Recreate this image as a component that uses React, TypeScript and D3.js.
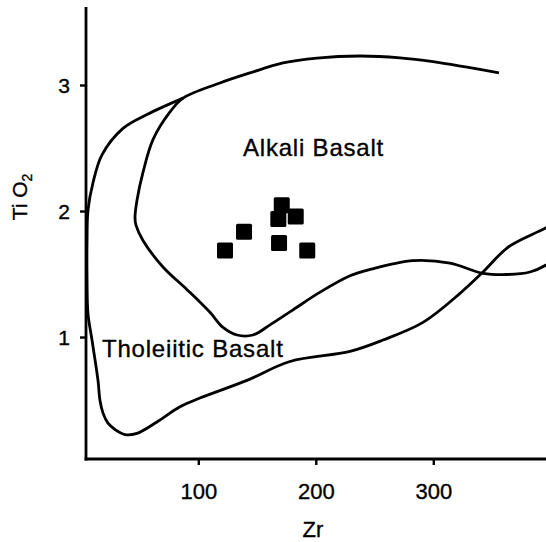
import * as d3 from "d3";

type Pt = [number, number]; // [Zr, TiO2]

// shared upper boundary, right to left
const topBoundary: Pt[] = [
  [355.5, 3.1], [328.3, 3.145], [299.3, 3.19], [271.2, 3.22], [237.2, 3.234],
  [200.6, 3.218], [171.7, 3.179], [143.6, 3.1], [118.0, 3.02], [86.6, 2.9],
];

// alkali basalt field: inner branch down to the kink and out to the right
const alkaliBranch: Pt[] = [
  [75.5, 2.79], [61.0, 2.57], [52.5, 2.31], [47.4, 2.09], [45.7, 1.95],
  [46.6, 1.89], [52.5, 1.77], [69.5, 1.56], [90.0, 1.38], [109.5, 1.2],
  [120.6, 1.08], [132.5, 1.02], [146.1, 1.02], [160.6, 1.1], [180.2, 1.22],
  [203.2, 1.36], [228.7, 1.49], [245.7, 1.54], [282.3, 1.61], [313.8, 1.59],
  [341.9, 1.51], [362.3, 1.5], [381.9, 1.52], [395.5, 1.575], [410, 1.68],
];

// tholeiitic basalt field: outer branch along the axis and across the bottom
const tholeiiticBranch: Pt[] = [
  [86.6, 2.9], [55.9, 2.77], [35.5, 2.66], [17.6, 2.45], [10.0, 2.23],
  [5.7, 2.01], [4.9, 1.77], [4.9, 1.46], [5.7, 1.19], [9.1, 0.98],
  [14.2, 0.66], [15.9, 0.5], [18.5, 0.4], [22.7, 0.32], [28.7, 0.27],
  [37.2, 0.23], [47.4, 0.24], [64.4, 0.33], [84.0, 0.45], [101.0, 0.52],
  [141.0, 0.66], [177.6, 0.81], [228.7, 0.89], [256.8, 0.98], [290.8, 1.12],
  [322.3, 1.35], [341.9, 1.52], [362.3, 1.71], [381.9, 1.81], [395.5, 1.87],
  [410, 1.93],
];

// samples
const sampleZr = [122.3, 138.5, 170.6, 167.7, 182.5, 168.3, 192.3];
const sampleTi = [1.69, 1.84, 2.05, 1.94, 1.96, 1.75, 1.69];

const xTicks = [100, 200, 300];
const yTicks = [1, 2, 3];

const W = 546;
const H = 542;
const font = "'Liberation Sans', Arial, Helvetica, sans-serif";

export default function App() {
  const x = d3.scaleLinear().domain([4, 395.5]).range([86, 546]);
  const y = d3.scaleLinear().domain([0.036, 3.623]).range([459, 7]);

  const line = d3
    .line<Pt>()
    .x((d) => x(d[0]))
    .y((d) => y(d[1]))
    .curve(d3.curveCatmullRom.alpha(0.5));

  const alkaliPath = line([...topBoundary, ...alkaliBranch]) ?? "";
  const tholPath = line(tholeiiticBranch) ?? "";

  const sq = 16;
  const x0 = x(4);
  const y0 = y(0.036);
  // scanned look: a hairline stroke thickens the glyphs a little
  const textInk = { fill: "#000", stroke: "#000", strokeWidth: 0.35 };

  return (
    <svg
      width={W}
      height={H}
      viewBox={`0 0 ${W} ${H}`}
      style={{ position: "absolute", left: 0, top: 0, background: "#fff" }}
      fontFamily={font}
    >
      <rect width={W} height={H} fill="#fff" />

      {/* field boundaries */}
      <path d={alkaliPath} fill="none" stroke="#000" strokeWidth={2.8} />
      <path d={tholPath} fill="none" stroke="#000" strokeWidth={2.8} />

      {/* axes */}
      <line x1={x0} x2={x0} y1={y(3.623)} y2={y0 + 1.4} stroke="#000" strokeWidth={2.8} />
      <line x1={x0 - 1.4} x2={W} y1={y0} y2={y0} stroke="#000" strokeWidth={2.8} />

      {yTicks.map((t) => (
        <g key={"y" + t}>
          <line x1={x0 - 6} x2={x0} y1={y(t)} y2={y(t)} stroke="#000" strokeWidth={2.4} />
          <text x={70} y={y(t)} dy="0.36em" textAnchor="end" fontSize={21} {...textInk}>
            {t}
          </text>
        </g>
      ))}
      {xTicks.map((t) => (
        <g key={"x" + t}>
          <line x1={x(t)} x2={x(t)} y1={y0} y2={y0 + 6} stroke="#000" strokeWidth={2.4} />
          <text x={x(t)} y={499} textAnchor="middle" fontSize={22} {...textInk}>
            {t}
          </text>
        </g>
      ))}

      {/* axis titles */}
      <text x={313} y={537} textAnchor="middle" fontSize={22} {...textInk}>
        Zr
      </text>
      <text
        transform="translate(27,197) rotate(-90)"
        textAnchor="middle"
        fontSize={21}
        {...textInk}
      >
        Ti O<tspan fontSize={14} dy={5}>2</tspan>
      </text>

      {/* field labels */}
      <text x={x(137.6)} y={y(2.44)} fontSize={24} letterSpacing={0.8} {...textInk}>
        Alkali Basalt
      </text>
      <text x={x(17.6)} y={y(0.845)} fontSize={24} letterSpacing={0.8} {...textInk}>
        Tholeiitic Basalt
      </text>

      {/* samples */}
      {sampleZr.map((z, i) => (
        <rect
          key={i}
          x={x(z) - sq / 2}
          y={y(sampleTi[i]) - sq / 2}
          width={sq}
          height={sq}
          rx={1.5}
          fill="#000"
        />
      ))}
    </svg>
  );
}
